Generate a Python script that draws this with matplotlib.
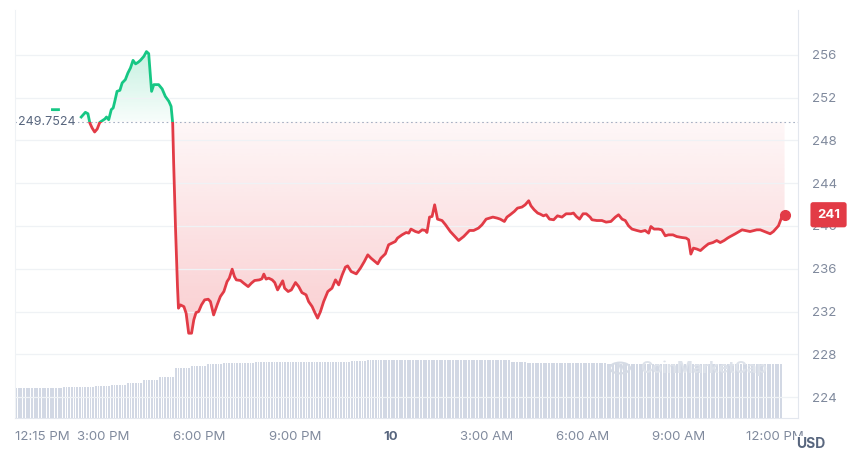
import numpy as np
import matplotlib
matplotlib.use('Agg')
import matplotlib.pyplot as plt
import matplotlib.transforms as mtransforms
from matplotlib.patches import Rectangle, Circle
from matplotlib.path import Path

plt.rcParams['font.family'] = ['Inter', 'DejaVu Sans']

nan = float('nan')

# hours after 12:15 PM
hours = [1.17, 1.36, 1.70,
         2.07, 2.20, 2.28, 2.34, 2.41, 2.49, 2.57, 2.65, 2.73, 2.81, 2.86, 2.93,
         3.01, 3.07, 3.12, 3.19, 3.28, 3.35, 3.45, 3.53, 3.61, 3.69, 3.77, 3.85, 3.92,
         4.03, 4.11, 4.18, 4.27, 4.34, 4.49, 4.60, 4.70, 4.81, 4.88, 4.93, 4.96,
         5.02, 5.08, 5.11, 5.17, 5.28, 5.35, 5.43, 5.52, 5.59, 5.66, 5.74, 5.83, 5.93,
         6.04, 6.11, 6.21, 6.32, 6.42, 6.53, 6.63, 6.70, 6.79, 6.86, 6.92,
         7.05, 7.15, 7.29, 7.39, 7.49, 7.64, 7.72, 7.78, 7.85, 7.93,
         8.04, 8.12, 8.21, 8.30, 8.37, 8.43, 8.54, 8.64, 8.77, 8.87, 8.97,
         9.10, 9.18, 9.29, 9.36, 9.46, 9.55, 9.65, 9.78, 9.91,
         10.02, 10.12, 10.23, 10.33, 10.40, 10.51, 10.67, 10.80, 10.92,
         11.03, 11.13, 11.23, 11.34, 11.44, 11.58, 11.68, 11.79, 11.89, 11.96,
         12.10, 12.23, 12.31, 12.38, 12.52, 12.62, 12.73, 12.83, 12.88, 12.96,
         13.04, 13.12, 13.21, 13.35, 13.46, 13.61, 13.77, 13.87,
         14.03, 14.21, 14.34, 14.49, 14.60, 14.73, 14.84, 14.94,
         15.07, 15.17, 15.30, 15.38, 15.48, 15.61, 15.71, 15.85, 15.95,
         16.06, 16.13, 16.23, 16.34, 16.42, 16.52, 16.61, 16.71, 16.84, 16.96,
         17.10, 17.23, 17.38, 17.46, 17.55, 17.65, 17.76, 17.86, 17.98,
         18.04, 18.19, 18.35, 18.48, 18.63, 18.77, 18.87, 18.98,
         19.08, 19.18, 19.29, 19.44, 19.57, 19.70, 19.81, 19.88, 19.98,
         20.12, 20.22, 20.33, 20.43, 20.57, 20.69, 20.85, 20.98,
         21.06, 21.13, 21.21, 21.32, 21.43, 21.55, 21.68, 21.82, 21.94,
         22.05, 22.17, 22.28, 22.36, 22.52, 22.73, 22.83, 22.98,
         23.19, 23.30, 23.61, 23.71, 23.87, 23.98, 24.06]

price = [250.88, 250.88, nan,
         250.19, 250.63, 250.50, 249.63, 249.17, 248.79, 249.07, 249.69, 249.85, 250.01, 250.19, 249.94,
         250.88, 251.04, 251.66, 252.59, 252.69, 253.38, 253.69, 254.31, 254.78, 255.49, 255.16, 255.31, 255.49,
         255.87, 256.31, 256.12, 252.59, 253.22, 253.22, 252.82, 252.12, 251.66, 251.19, 249.63, 245.92,
         239.64, 234.33, 232.31, 232.62, 232.46, 231.84, 229.97, 229.97, 231.22, 231.90, 231.99, 232.62, 233.09,
         233.15, 232.93, 231.68, 232.62, 233.40, 233.87, 234.80, 235.12, 235.96, 235.27, 234.96,
         234.90, 234.65, 234.33, 234.65, 234.90, 234.96, 235.06, 235.50, 235.03, 235.12,
         234.96, 234.71, 234.02, 234.49, 234.87, 234.18, 233.87, 234.02, 234.71, 234.33, 233.77,
         233.56, 232.93, 232.46, 231.99, 231.38, 231.99, 232.93, 233.87, 234.18,
         234.96, 234.49, 235.43, 236.15, 236.27, 235.74, 235.52, 236.06, 236.67,
         237.30, 236.99, 236.74, 236.46, 236.99, 237.40, 238.24, 238.40, 238.55, 238.87,
         239.17, 239.39, 239.33, 239.71, 239.48, 239.39, 239.64, 239.58, 239.39, 240.83,
         240.89, 241.98, 240.64, 240.51, 240.11, 239.48, 238.96, 238.64,
         239.02, 239.58, 239.58, 239.80, 240.11, 240.64, 240.74, 240.83,
         240.74, 240.64, 240.42, 240.83, 241.05, 241.36, 241.67, 241.77, 241.98,
         242.36, 241.89, 241.52, 241.21, 241.11, 240.95, 241.05, 240.64, 240.58, 240.95,
         240.83, 241.14, 241.14, 241.21, 240.89, 240.64, 241.14, 241.14, 240.83,
         240.58, 240.51, 240.51, 240.36, 240.42, 240.83, 241.05, 240.64,
         240.51, 240.02, 239.71, 239.58, 239.48, 239.58, 239.33, 239.95, 239.71,
         239.71, 239.64, 239.08, 239.17, 239.17, 239.01, 238.92, 238.87,
         238.71, 237.37, 237.93, 237.84, 237.70, 238.02, 238.33, 238.45, 238.64,
         238.45, 238.64, 238.87, 239.01, 239.27, 239.64, 239.58, 239.48,
         239.64, 239.64, 239.27, 239.48, 240.02, 240.89, 241.05]

base_price = 249.7524
base_label = '249.7524'
last_label = '241'

# 24h volume (bn USD), one value per half hour, drawn as 5-minute bars
vol_halfhour = [3.00, 3.00, 3.03, 3.07, 3.10, 3.20, 3.35, 3.55, 3.80, 4.15,
                5.00, 5.25, 5.40, 5.50, 5.53, 5.56, 5.58, 5.60, 5.62, 5.63,
                5.64, 5.68, 5.76, 5.78, 5.80, 5.82, 5.84, 5.84, 5.83, 5.83,
                5.80, 5.56, 5.53, 5.50, 5.48, 5.47, 5.46, 5.45, 5.45, 5.44,
                5.44, 5.44, 5.43, 5.43, 5.43, 5.43, 5.43, 5.43]

tick_hours = [0, 2.75, 5.75, 8.75, 11.75, 14.75, 17.75, 20.75, 23.75]
tick_labels = ['12:15 PM', '3:00 PM', '6:00 PM', '9:00 PM', '10',
               '3:00 AM', '6:00 AM', '9:00 AM', '12:00 PM']
price_ticks = [224, 228, 232, 236, 240, 244, 248, 252, 256]

GREEN = '#16c784'
RED = '#e23b46'
GRID = '#eff2f5'
TXT = '#808a9d'

fig = plt.figure(figsize=(8.5, 4.61), dpi=100)
ax = fig.add_axes([15/850, 43/461, 783/850, 408/461])
xmin, xmax = 0, 24.48
ylo, yhi = 222.04, 260.2

# volume on a twin axis
ax2 = ax.twinx()
vol = np.repeat(vol_halfhour, 6)
vt = np.arange(len(vol)) * 5 / 60
ax2.bar(vt, vol, width=0.058, align='edge', color='#d2d8e4', linewidth=0, zorder=1)
ax2.set_ylim(0, 40.8)
ax2.set_yticks([])
for s in ax2.spines.values():
    s.set_visible(False)
ax.set_zorder(ax2.get_zorder() + 1)
ax.patch.set_visible(False)

# gradient fill between price and base
t = np.array(hours)
p = np.array(price)
ys = np.linspace(ylo, yhi, 800)
rgba = np.zeros((800, 1, 4))
g = np.array([22, 199, 132]) / 255
r = np.array([234, 57, 67]) / 255
up = ys >= base_price
rgba[up, 0, :3] = g
rgba[~up, 0, :3] = r
rgba[up, 0, 3] = 0.03 + 0.22 * np.clip((ys[up] - base_price) / (256.5 - base_price), 0, 1)
rgba[~up, 0, 3] = 0.04 + 0.21 * np.clip((base_price - ys[~up]) / (base_price - 230), 0, 1)
im = ax.imshow(rgba, extent=[xmin, xmax, ylo, yhi], origin='lower', aspect='auto',
               interpolation='bilinear', zorder=1)
poly = ax.fill_between(t, p, base_price, facecolor='none', edgecolor='none')
clip = Path.make_compound_path(*poly.get_paths())
im.set_clip_path(clip, ax.transData)

# price line, green above base, red below
lg, = ax.plot(t, p, color=GREEN, lw=2.0, zorder=3, solid_joinstyle='round')
lr, = ax.plot(t, p, color=RED, lw=2.0, zorder=3, solid_joinstyle='round')
lg.set_clip_path(Rectangle((xmin, base_price), xmax - xmin, 50, transform=ax.transData))
lr.set_clip_path(Rectangle((xmin, base_price - 50), xmax - xmin, 50, transform=ax.transData))
ax.plot(t[-1], p[-1], 'o', color=RED, ms=7, zorder=4)

# base line and label
ax.axhline(base_price, color='#a6b0c3', lw=0.8, ls=(0, (1.5, 2.5)), zorder=2)
bt = mtransforms.blended_transform_factory(ax.transAxes, ax.transData)
ax.text(0.078, base_price, base_label, transform=bt, ha='right', va='center',
        fontsize=9, color='#58667e',
        bbox=dict(boxstyle='square,pad=0.15', fc='white', ec='none'), zorder=5)

# last price tag
ax.text(1.039, p[-1], last_label, transform=bt, ha='center', va='center',
        fontsize=9.5, color='white', fontweight='bold', clip_on=False,
        bbox=dict(boxstyle='round,pad=0.5,rounding_size=0.2', fc=RED, ec='none'), zorder=6)

ax.set_xlim(xmin, xmax)
ax.set_ylim(ylo, yhi)
ax.yaxis.tick_right()
ax.set_yticks(price_ticks)
ax.set_yticklabels([str(v) for v in price_ticks])
ax.tick_params(axis='y', length=0, pad=10, labelsize=9.5, labelcolor=TXT)
ax.set_xticks(tick_hours)
ax.set_xticklabels(tick_labels)
ax.tick_params(axis='x', length=0, pad=9, labelsize=9.5, labelcolor=TXT)
xl = ax.get_xticklabels()
xl[0].set_horizontalalignment('left')
xl[4].set_fontweight('bold')
xl[4].set_color('#58667e')
ax.grid(axis='y', color=GRID, lw=0.9, zorder=0)
ax.spines['top'].set_visible(False)
ax.spines['left'].set_color(GRID)
ax.spines['right'].set_color('#e3e7ee')
ax.spines['bottom'].set_color('#e3e7ee')

# watermark
fig.patches.append(Circle((620/850, 1 - 368/461), 10/850, transform=fig.transFigure,
                          fill=False, ec='#d5dbe5', lw=1.5))
fig.text(620/850, 1 - 368/461, 'M', ha='center', va='center', fontsize=8,
         color='#d5dbe5', fontweight='bold')
fig.text(640/850, 1 - 368/461, 'CoinMarketCap', ha='left', va='center', fontsize=12,
         color='#dde2ea', fontweight='bold')

fig.text(796/850, 1 - 444/461, 'USD', ha='left', va='center', fontsize=10,
         color='#58667e', fontweight='bold',
         bbox=dict(boxstyle='square,pad=0.1', fc='white', ec='none'))

fig.savefig('out.png', dpi=100, facecolor='white')
